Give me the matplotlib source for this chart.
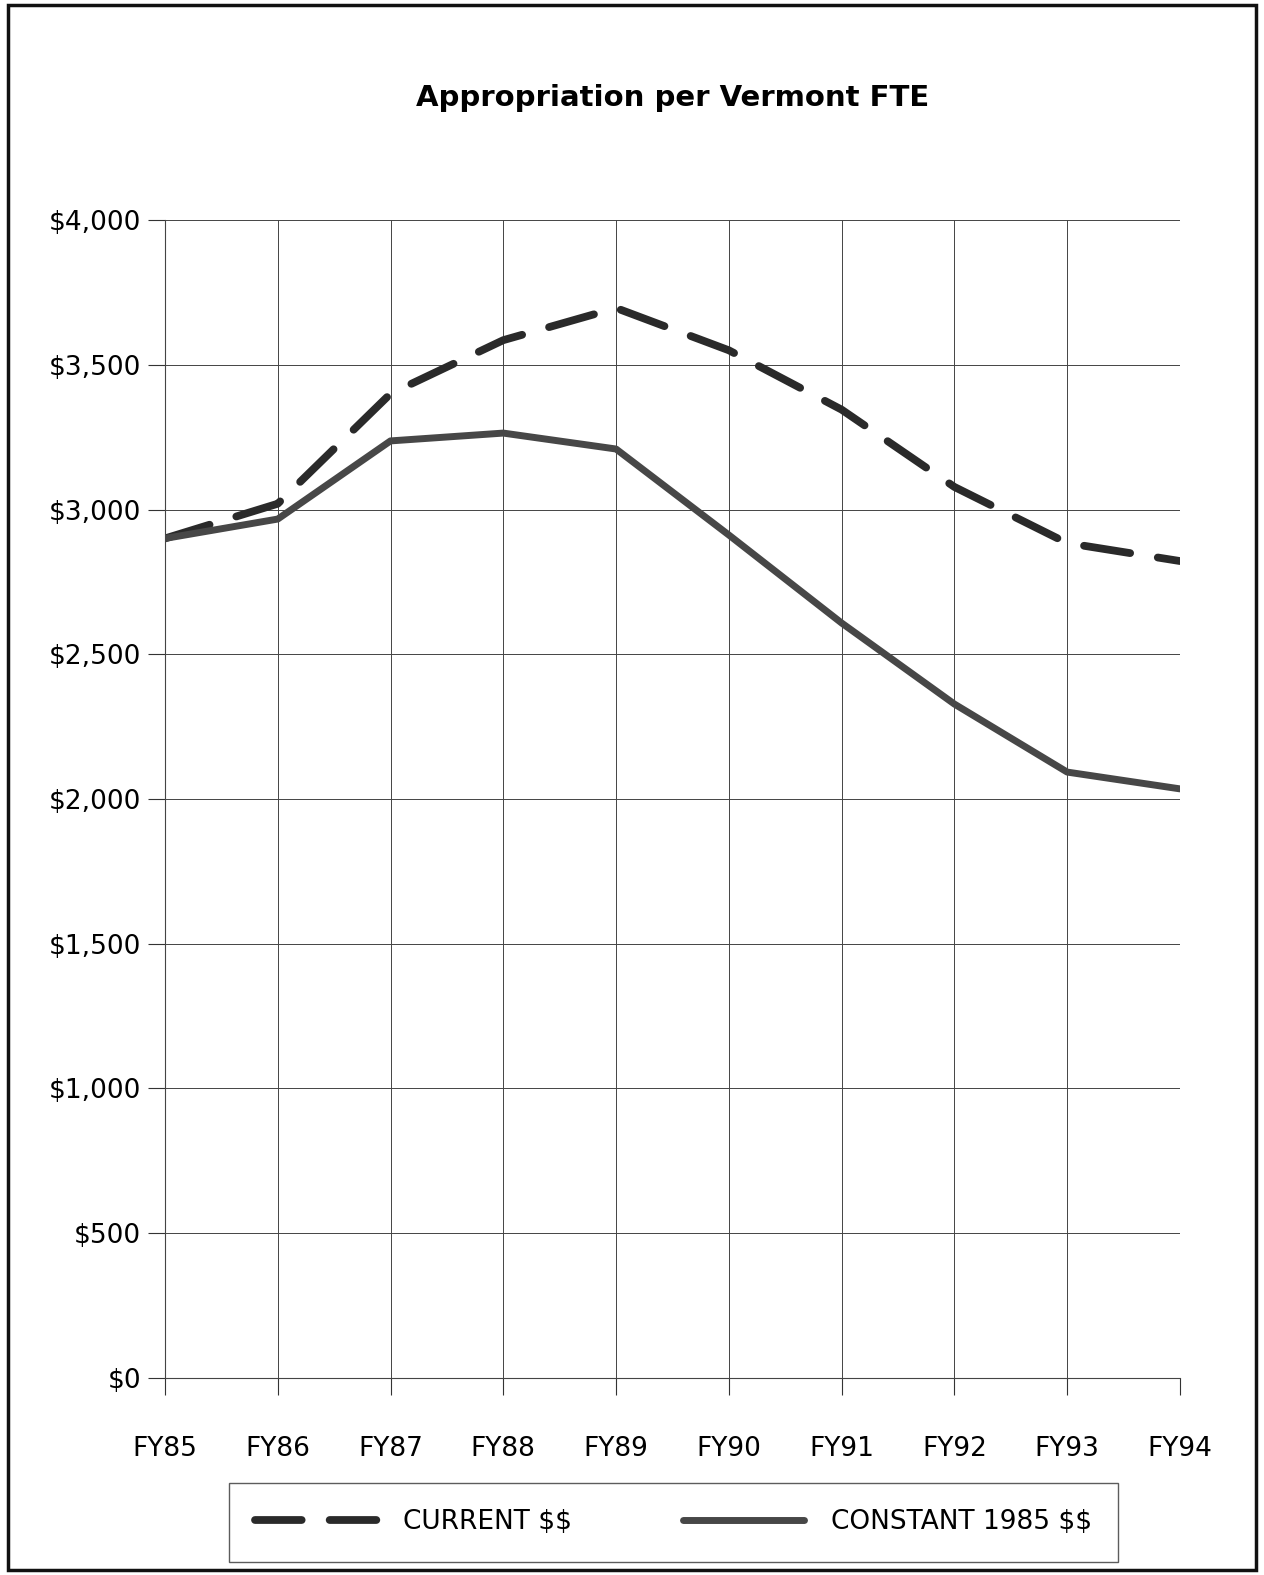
import matplotlib.pyplot as plt
from matplotlib.patches import Rectangle

plt.rcParams["text.parse_math"] = False

years = ["FY85", "FY86", "FY87", "FY88", "FY89", "FY90", "FY91", "FY92", "FY93", "FY94"]
current = [2900, 3020, 3400, 3585, 3696, 3550, 3345, 3078, 2884, 2822]
constant = [2900, 2967, 3237, 3264, 3209, 2912, 2608, 2328, 2093, 2035]
yticks = [0, 500, 1000, 1500, 2000, 2500, 3000, 3500, 4000]

fig = plt.figure(figsize=(12.64, 15.75), dpi=100)
ax = fig.add_axes([0.1305, 0.1251, 0.8030, 0.7352])

x = range(len(years))
ax.plot(x, current, color="#2a2a2a", lw=5.6, dashes=(6.0, 3.6),
        solid_capstyle="round", dash_capstyle="round", label="CURRENT $$")
ax.plot(x, constant, color="#474747", lw=5.0, solid_capstyle="round",
        label="CONSTANT 1985 $$")

ax.set_xlim(0, len(years) - 1)
ax.set_ylim(0, 4000)
ax.set_xticks(list(x))
ax.set_xticklabels(years, fontsize=19)
ax.set_yticks(yticks)
ax.set_yticklabels(["${:,}".format(v) for v in yticks], fontsize=19)
ax.tick_params(axis="x", length=12, width=0.8, color="#333333", pad=30)
ax.tick_params(axis="y", length=12, width=0.8, color="#333333", pad=5)
ax.grid(True, color="#444444", lw=0.7)
ax.set_axisbelow(True)
for s in ["top", "right"]:
    ax.spines[s].set_visible(False)
ax.spines["left"].set_color("#444444")
ax.spines["bottom"].set_color("#444444")
ax.spines["left"].set_linewidth(0.8)
ax.spines["bottom"].set_linewidth(0.8)

fig.text(0.532, 0.938, "Appropriation per Vermont FTE", ha="center", va="center",
         fontsize=21, fontweight="bold")

leg = fig.legend(loc="center", bbox_to_anchor=(0.533, 0.0335), ncol=2, fontsize=19,
                 frameon=True, fancybox=False, handlelength=4.6, handletextpad=1.0,
                 columnspacing=4.2, borderpad=1.0, edgecolor="#333333")
leg.get_frame().set_linewidth(1.0)

# outer frame
fig.patches.append(Rectangle((0.006, 0.003), 0.988, 0.994, transform=fig.transFigure,
                             fill=False, lw=2.5, edgecolor="#111111"))

plt.savefig("out.png", dpi=100)
plt.close()
